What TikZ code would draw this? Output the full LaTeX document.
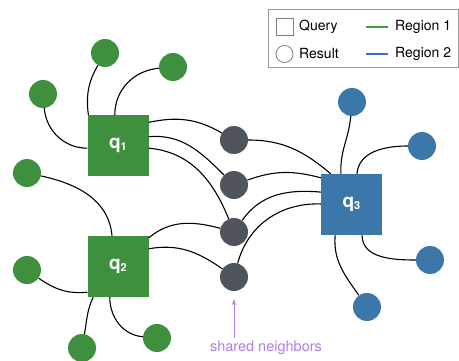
\documentclass[tikz,border=0pt]{standalone}
\usepackage{fontspec}
\setmainfont{TeX Gyre Heros}
\usetikzlibrary{arrows.meta}
\definecolor{qgreen}{HTML}{3E8F3E}
\definecolor{qblue}{HTML}{3B77A8}
\definecolor{nbgray}{HTML}{50555D}
\definecolor{lgreen}{HTML}{3E9B3E}
\definecolor{lblue}{HTML}{3C6FC4}
\definecolor{nbpurple}{HTML}{B07DE8}
\newcommand\qname[1]{{\fontsize{19}{20}\selectfont\bfseries q}\raisebox{-2pt}{\fontsize{11}{12}\selectfont\bfseries #1}}
\begin{document}
\begin{tikzpicture}[x=1pt, y=1pt,
    querybox/.style={rectangle, fill=#1, minimum size=61pt, inner sep=0pt, text=white},
    resultdot/.style={circle, fill=#1, minimum size=28pt, inner sep=0pt},
    link/.style={line width=1.1pt, black},
    legtext/.style={anchor=west, inner sep=0pt, font=\fontsize{14}{16}\selectfont}]
\useasboundingbox (0,0) rectangle (459,360);

% query squares
\node (q1) [querybox=qgreen] at (118, 214.5) {\qname{1}};
\node (q2) [querybox=qgreen] at (118, 93.5) {\qname{2}};
\node (q3) [querybox=qblue] at (351.5, 155.5) {\qname{3}};

% region 1 results
\node (g1) [resultdot=qgreen] at (105, 307) {};
\node (g2) [resultdot=qgreen] at (173, 293) {};
\node (g3) [resultdot=qgreen] at (43, 266) {};
\node (g4) [resultdot=qgreen] at (27, 187) {};
\node (g5) [resultdot=qgreen] at (27, 90) {};
\node (g6) [resultdot=qgreen] at (82, 12) {};
\node (g7) [resultdot=qgreen] at (157, 22) {};

% shared neighbors
\node (n1) [resultdot=nbgray] at (234, 220) {};
\node (n2) [resultdot=nbgray] at (234, 175) {};
\node (n3) [resultdot=nbgray] at (234, 128) {};
\node (n4) [resultdot=nbgray] at (234, 83) {};

% region 2 results
\node (b1) [resultdot=qblue] at (352, 258) {};
\node (b2) [resultdot=qblue] at (422, 214) {};
\node (b3) [resultdot=qblue] at (430, 100) {};
\node (b4) [resultdot=qblue] at (367, 53) {};

% q1
\draw[link] (q1.134) to[out=97, in=-120] (g1);
\draw[link] (q1.96) to[out=90, in=185] (g2);
\draw[link] (q1.185) to[out=180, in=-85] (g3);
\draw[link] (q1.37) to[out=12, in=150] (n1);
\draw[link] (q1.16) to[out=5, in=135] (n2);
\draw[link] (q1.-5) to[out=-5, in=112] (n3);

% q2
\draw[link] (g4) to[out=-12, in=95] (q2.101);
\draw[link] (q2.43) to[out=40, in=165] (n3);
\draw[link] (q2.30) to[out=10, in=145] (n4);
\draw[link] (q2.220) to[out=185, in=-35] (g5);
\draw[link] (q2.231) to[out=-115, in=80] (g6);
\draw[link] (q2.255) to[out=-90, in=175] (g7);

% q3
\draw[link] (q3.109) to[out=93, in=-95] (b1);
\draw[link] (q3.80) to[out=85, in=180] (b2);
\draw[link] (q3.-71) to[out=-90, in=180] (b3);
\draw[link] (q3.-118) to[out=-95, in=125] (b4);
\draw[link] (n1) to[out=0, in=140] (q3.124);
\draw[link] (n2) to[out=20, in=165] (q3.139);
\draw[link] (n3) to[out=55, in=175] (q3.158);
\draw[link] (n4) to[out=75, in=178] (q3.179);

% shared neighbors label
\node (shared) [inner sep=0pt, text=nbpurple, font=\fontsize{14.5}{16}\selectfont] at (266, 12) {shared neighbors};
\draw[nbpurple, line width=0.9pt, -{Stealth[length=6pt, width=4.5pt]}] ([yshift=2.5pt]shared.north -| n4) -- ([yshift=-8pt]n4.south);

% legend
\draw[gray!80, line width=0.8pt] (268, 293) rectangle (458.3, 351);
\node (legq) [draw=gray, line width=0.8pt, minimum size=17pt, inner sep=0pt] at (284.5, 333.5) {};
\node (legr) [draw=gray, circle, line width=0.8pt, minimum size=17pt, inner sep=0pt] at (284.5, 306) {};
\node (qtext) [legtext] at (299, 333) {Query};
\node (rtext) [legtext] at (299, 306) {Result};
\coordinate (g1a) at (366, 333);
\coordinate (g1b) at (388, 333);
\coordinate (b1a) at (366, 306);
\coordinate (b1b) at (388, 306);
\draw[lgreen, line width=2pt] (g1a) -- (g1b);
\draw[lblue, line width=2pt] (b1a) -- (b1b);
\node (r1text) [legtext] at (395, 333) {Region 1};
\node (r2text) [legtext] at (395, 306) {Region 2};
\end{tikzpicture}
\end{document}
